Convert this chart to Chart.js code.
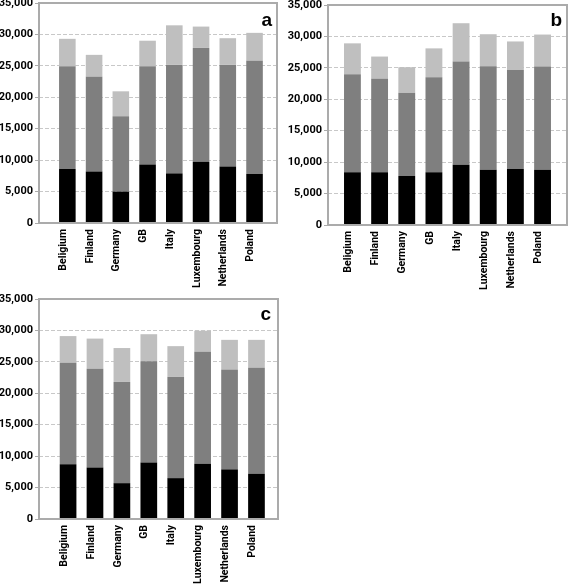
<!DOCTYPE html>
<html>
<head>
<meta charset="utf-8">
<script src="https://cdn.jsdelivr.net/npm/chart.js@4/dist/chart.umd.min.js"></script>
<style>
  html, body { margin: 0; padding: 0; background: #ffffff; }
  body { width: 568px; height: 586px; position: relative; overflow: hidden; }
  canvas { position: absolute; }
</style>
</head>
<body>
<canvas id="pa" width="283" height="291" style="left:0px;top:0px;width:283px;height:291px"></canvas>
<canvas id="pb" width="285" height="291" style="left:283px;top:0px;width:285px;height:291px"></canvas>
<canvas id="pc" width="283" height="294" style="left:0px;top:292px;width:283px;height:294px"></canvas>
<script>
// ---- data ----
const categories = ['Beligium', 'Finland', 'Germany', 'GB', 'Italy', 'Luxembourg', 'Netherlands', 'Poland'];
const yTickValues = [0, 5000, 10000, 15000, 20000, 25000, 30000, 35000];

// panel a : stacked segments (bottom, middle, top)
const aBottom = [8600, 8200, 5000, 9300, 7900, 9750, 9000, 7800];
const aMiddle = [16350, 15050, 12000, 15650, 17250, 18100, 16150, 18000];
const aTop    = [4350, 3500, 3950, 4050, 6300, 3400, 4250, 4450];

// panel b
const bBottom = [8400, 8400, 7800, 8400, 9600, 8800, 8900, 8800];
const bMiddle = [15600, 14850, 13250, 15100, 16400, 16450, 15750, 16400];
const bTop    = [4900, 3550, 4050, 4600, 6100, 5100, 4550, 5100];

// panel c
const cBottom = [8700, 8200, 5700, 9000, 6500, 8800, 7900, 7200];
const cMiddle = [16150, 15700, 16100, 16100, 16150, 17800, 15900, 16850];
const cTop    = [4250, 4800, 5400, 4300, 4850, 3350, 4700, 4450];

// ---- custom category scale with extra edge space ----
class PaddedCategoryScale extends Chart.CategoryScale {
  configure() {
    super.configure();
    const s = this.options.padStart || 0;
    const e = this.options.padEnd || 0;
    this._startValue -= s;
    this._valueRange += s + e;
  }
}
PaddedCategoryScale.id = 'paddedCategory';
PaddedCategoryScale.defaults = Chart.CategoryScale.defaults;
Chart.register(PaddedCategoryScale);

const framePlugin = {
  id: 'frameBox',
  afterDatasetsDraw(chart) {
    const { ctx, chartArea: a } = chart;
    ctx.save();
    ctx.strokeStyle = '#ababab';
    ctx.lineWidth = 2;
    ctx.strokeRect(a.left, a.top, a.right - a.left, a.bottom - a.top);
    ctx.restore();
  }
};
const letterPlugin = {
  id: 'panelLetter',
  afterDraw(chart, args, opts) {
    const { ctx, chartArea: a } = chart;
    ctx.save();
    ctx.font = 'bold 19px "Liberation Sans", Arial, sans-serif';
    ctx.fillStyle = '#000';
    ctx.textAlign = 'right';
    ctx.textBaseline = 'alphabetic';
    ctx.fillText(opts.text, a.right - opts.dx, a.top + opts.dy);
    ctx.restore();
  }
};

const yFont = { family: 'Roboto, "Open Sans", sans-serif', weight: 'bold', size: 11 };
const xFont = { family: 'Roboto, "Open Sans", sans-serif', weight: 'bold', size: 10.5 };

function makeChart(id, bottom, middle, top, cfg) {
  new Chart(document.getElementById(id), {
    type: 'bar',
    data: {
      labels: categories,
      datasets: [
        { data: bottom, backgroundColor: '#000000' },
        { data: middle, backgroundColor: '#7f7f7f' },
        { data: top,    backgroundColor: '#bfbfbf' }
      ]
    },
    options: {
      responsive: false,
      animation: false,
      devicePixelRatio: 1,
      categoryPercentage: 0.62,
      barPercentage: 1,
      layout: { padding: cfg.padding },
      plugins: {
        legend: { display: false },
        tooltip: { enabled: false },
        panelLetter: { text: cfg.letter, dx: cfg.dx, dy: cfg.dy }
      },
      scales: {
        x: {
          type: 'paddedCategory',
          stacked: true,
          padStart: cfg.padStart,
          padEnd: cfg.padEnd,
          grid: { display: false },
          border: { display: false },
          ticks: {
            font: xFont, color: '#000', padding: -2, labelOffset: -4,
            minRotation: 90, maxRotation: 90, autoSkip: false
          },
          afterFit(s) { s.height = cfg.xHeight; s.paddingLeft = 0; s.paddingRight = 0; }
        },
        y: {
          stacked: true,
          min: 0,
          max: 35000,
          afterBuildTicks(s) { s.ticks = yTickValues.map(v => ({ value: v })); },
          grid: { color: '#c8c8c8', lineWidth: 1, tickLength: 4, tickColor: '#ababab', tickWidth: 1 },
          border: { display: false, dash: [4, 2] },
          ticks: {
            font: yFont, color: '#000', padding: 2,
            callback: v => v.toLocaleString('en-US')
          },
          afterFit(s) { s.width = cfg.yWidth; s.paddingTop = 0; s.paddingBottom = 0; }
        }
      }
    },
    plugins: [framePlugin, letterPlugin]
  });
}

makeChart('pa', aBottom, aMiddle, aTop, {
  padding: { top: 3, right: 6, bottom: 0, left: 0 }, yWidth: 39, xHeight: 68,
  padStart: 0.28, padEnd: 0.17, letter: 'a', dx: 5, dy: 23
});
makeChart('pb', bBottom, bMiddle, bTop, {
  padding: { top: 5, right: 1, bottom: 0, left: 0 }, yWidth: 45, xHeight: 66,
  padStart: 0.2, padEnd: 0.2, letter: 'b', dx: 5, dy: 21
});
makeChart('pc', cBottom, cMiddle, cTop, {
  padding: { top: 7, right: 5, bottom: 0, left: 0 }, yWidth: 39, xHeight: 67,
  padStart: 0.29, padEnd: 0.15, letter: 'c', dx: 7, dy: 21
});
</script>
</body>
</html>
